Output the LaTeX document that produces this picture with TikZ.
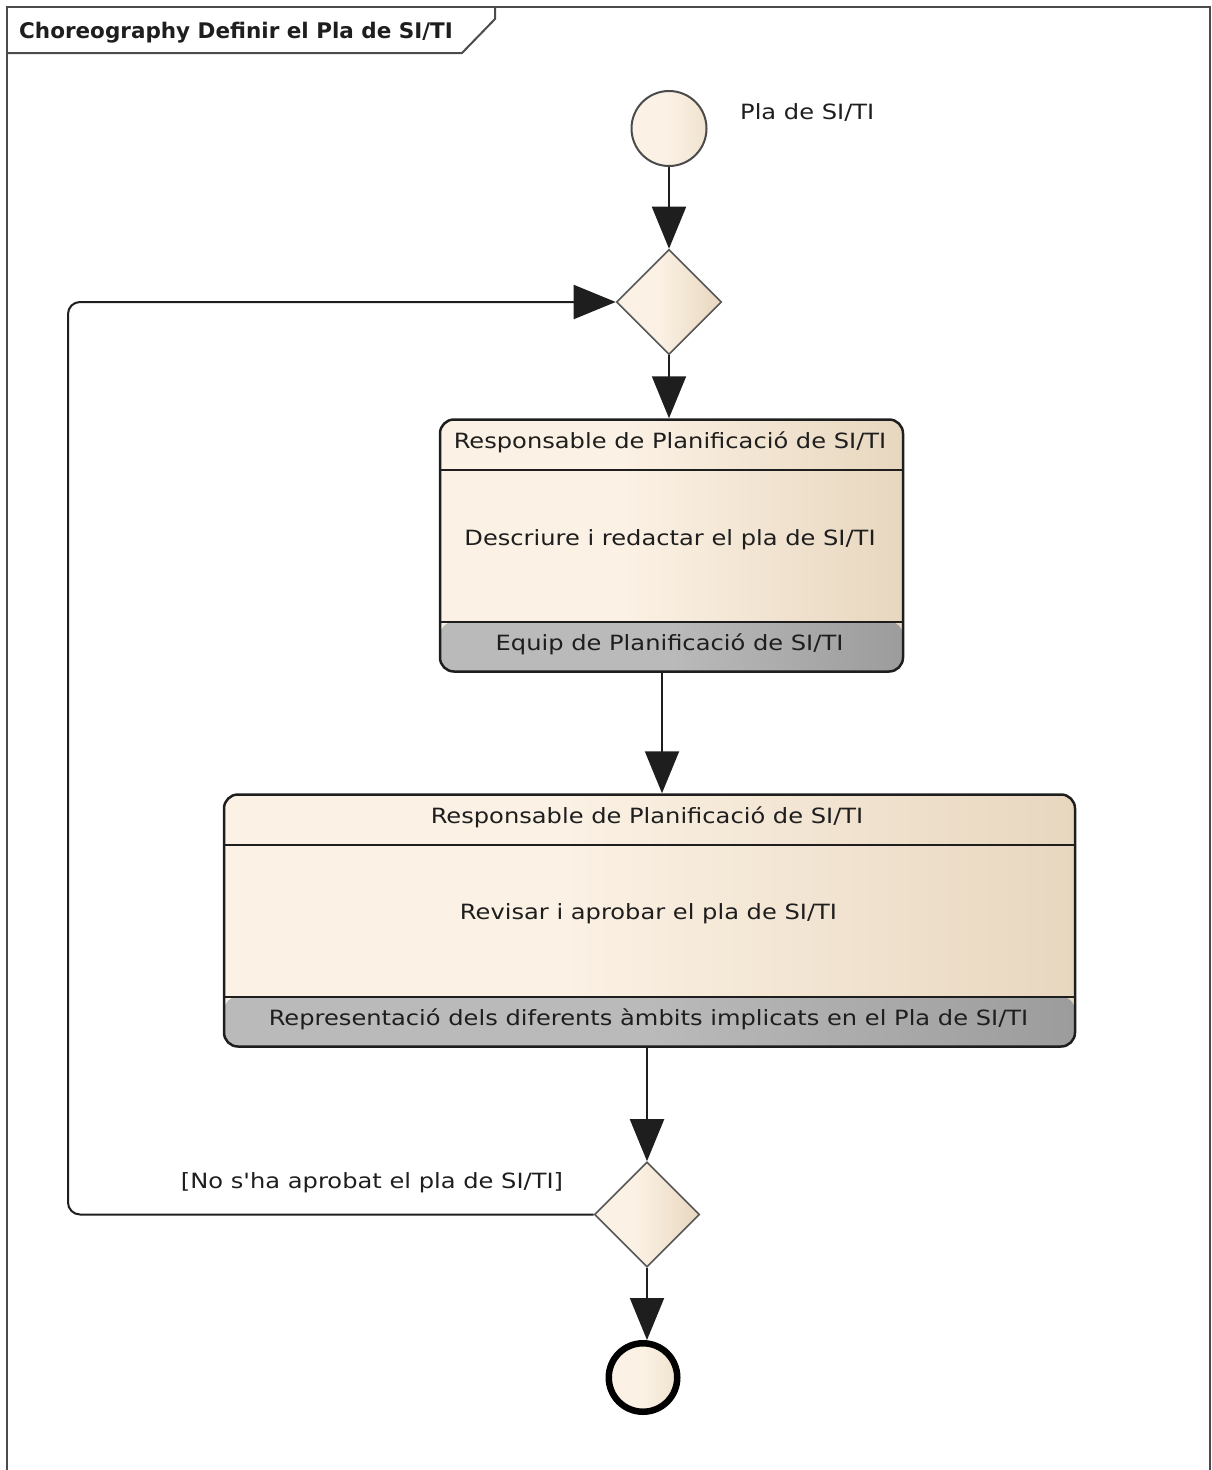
\documentclass[tikz,border=0pt]{standalone}
\usepackage{fontspec}
\usetikzlibrary{arrows.meta,shapes.geometric}

\newfontfamily\uifont[FakeStretch=1.15]{DejaVu Sans}
\newfontfamily\titlefont{DejaVu Sans}

\definecolor{creamA}{HTML}{FBF1E4}
\definecolor{creamB}{HTML}{E8D7BF}
\definecolor{creamC}{HTML}{F0E2CF}
\definecolor{greyA}{HTML}{BABABA}
\definecolor{greyB}{HTML}{9C9C9C}
\definecolor{ink}{HTML}{1E1E1E}

% light cream that warms towards the right edge
\pgfdeclarehorizontalshading{cream}{100bp}{color(0bp)=(creamA); color(25bp)=(creamA); color(45bp)=(creamA); color(75bp)=(creamB); color(100bp)=(creamB)}
% softer variant for the small event circles
\pgfdeclarehorizontalshading{creamsoft}{100bp}{color(0bp)=(creamA); color(25bp)=(creamA); color(50bp)=(creamA); color(75bp)=(creamC); color(100bp)=(creamC)}
% grey band at the bottom of an activity
\pgfdeclarehorizontalshading{greyband}{100bp}{color(0bp)=(greyA); color(25bp)=(greyA); color(50bp)=(greyA); color(75bp)=(greyB); color(100bp)=(greyB)}

\begin{document}
\begin{tikzpicture}[x=1pt,y=-1pt,
  frameline/.style={draw=ink!80,line width=2pt},
  titletext/.style={font=\titlefont\bfseries\fontsize{21.5}{25}\selectfont,text=ink,inner sep=0pt},
  lbl/.style={font=\uifont\fontsize{21}{25}\selectfont,text=ink,inner sep=0pt},
  flow/.style={draw=ink,line width=2pt,-{Triangle[length=42pt,width=34pt]}},
  startev/.style={circle,draw=ink!80,line width=2pt,shading=creamsoft,minimum size=75pt,inner sep=0pt},
  endev/.style={circle,draw=black,line width=6.5pt,shading=creamsoft,minimum size=68.5pt,inner sep=0pt},
  gate/.style={diamond,aspect=1,draw=ink!75,line width=1.6pt,shading=cream,minimum width=105pt,minimum height=105pt,inner sep=0pt},
  actbox/.style={draw=ink,line width=2.5pt,rounded corners=14pt,shading=cream,inner sep=0pt,
    path picture={
      \shade[shading=greyband] ([yshift=50pt]path picture bounding box.south west) rectangle (path picture bounding box.south east);
      \draw[ink,line width=2pt] ([yshift=50pt]path picture bounding box.south west) -- ([yshift=50pt]path picture bounding box.south east);
      \draw[ink,line width=2pt] ([yshift=-50pt]path picture bounding box.north west) -- ([yshift=-50pt]path picture bounding box.north east);
    }}
]
\useasboundingbox (0,0) rectangle (1211,1470);

% diagram frame and its name tab
\draw[frameline] (6.5,1470) -- (6.5,7) -- (1209.5,7) -- (1209.5,1470);
\draw[frameline] (6.5,53) -- (462,53) -- (495,19) -- (495,7);
\node[titletext,anchor=base west] (title) at (19,38) {Choreography Definir el Pla de SI/TI};

% start event
\node[startev] (start) at (669,128.5) {};
\node[lbl,anchor=base west] (startlbl) at (740,119) {Pla de SI/TI};

% merge gateway
\node[gate] (d1) at (669,302) {};

% first choreography task
\node[actbox,minimum width=463pt,minimum height=252pt] (act1) at (671.5,545.5) {};
\node[lbl,anchor=base] (act1top) at (670,448) {Responsable de Planificació de SI/TI};
\node[lbl,anchor=base] (act1mid) at (670,545) {Descriure i redactar el pla de SI/TI};
\node[lbl,anchor=base] (act1bot) at (669.5,650) {Equip de Planificació de SI/TI};

% second choreography task
\node[actbox,minimum width=851pt,minimum height=252pt] (act2) at (649.5,920.5) {};
\node[lbl,anchor=base] (act2top) at (647,823) {Responsable de Planificació de SI/TI};
\node[lbl,anchor=base] (act2mid) at (648.5,919) {Revisar i aprobar el pla de SI/TI};
\node[lbl,anchor=base] (act2bot) at (648.5,1025) {Representació dels diferents àmbits implicats en el Pla de SI/TI};

% decision gateway and end event
\node[gate] (d2) at (647,1214.5) {};
\node[endev] (end) at (643,1377.5) {};

% sequence flows
\draw[flow] (start) -- (d1);
\draw[flow] (d1.south) -- (d1.south |- act1.north);
\draw[flow] ([xshift=-9.5pt]act1.south) -- ([xshift=-9.5pt]act1.south |- act2.north);
\draw[flow] (act2.south -| d2.north) -- (d2.north);
\draw[flow] (d2.south) -- (d2.south |- end.north);

% loop back when the plan is not approved
\coordinate (lb) at (68,1214.5);
\coordinate (lt) at (68,302);
\draw[flow,rounded corners=12pt] (d2.west) -- (lb) -- (lt) -- (d1.west);
\node[lbl,anchor=base] (guard) at (372,1188) {[No s'ha aprobat el pla de SI/TI]};

\end{tikzpicture}
\end{document}
